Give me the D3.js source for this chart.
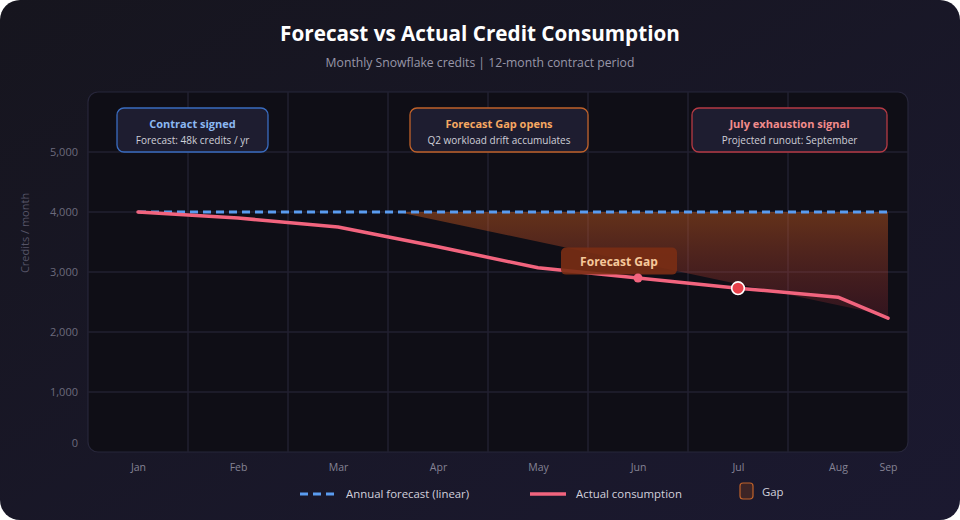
<!DOCTYPE html>
<html><head><meta charset="utf-8">
<script src="https://cdn.jsdelivr.net/npm/d3@7"></script>
<style>
html,body{margin:0;padding:0;background:#ffffff;}
svg{display:block;font-family:"Open Sans","Noto Sans",sans-serif;}
</style></head>
<body><svg id="chart" width="960" height="520"></svg>
<script>
// ---- data ----
const months = ["Jan","Feb","Mar","Apr","May","Jun","Jul","Aug","Sep"];
const elapsed = [0,1,2,3,4,5,6,7,7.5];           // months since contract start (Sep partial)
const forecast = [4000,4000,4000,4000,4000,4000,4000,4000,4000];
const actual = [4000,3900,3750,3420,3070,2900,2730,2580,2230];
const gapElapsed = [2.6, 7.5];
const gapLower = [4000, 2270];
const yTicks = [0,1000,2000,3000,4000,5000];
const annotations = [
  {title:"Contract signed", sub:"Forecast: 48k credits / yr", at:0.545, kind:"blue"},
  {title:"Forecast Gap opens", sub:"Q2 workload drift accumulates", at:3.61, kind:"orange"},
  {title:"July exhaustion signal", sub:"Projected runout: September", at:6.515, kind:"red"}
];

const W=960,H=520;
const svg=d3.select("#chart");
const defs=svg.append("defs");
const bg=defs.append("linearGradient").attr("id","bg").attr("x1","0").attr("y1","0").attr("x2","1").attr("y2","1");
bg.append("stop").attr("offset","0").attr("stop-color","#16151e");
bg.append("stop").attr("offset","1").attr("stop-color","#1b1930");
svg.append("rect").attr("width",W).attr("height",H).attr("rx",20).attr("fill","url(#bg)");

const plot={l:88,r:908,t:92,b:452};
const x=d3.scaleLinear().domain([-0.5,7.7]).range([plot.l,plot.r]);
const y=d3.scaleLinear().domain([0,6000]).range([plot.b,plot.t]);

svg.append("text").attr("x",W/2).attr("y",41).attr("text-anchor","middle")
  .attr("fill","#ffffff").attr("font-size",20.7).attr("font-weight",700).text("Forecast vs Actual Credit Consumption");
svg.append("text").attr("x",W/2).attr("y",67).attr("text-anchor","middle")
  .attr("fill","#9896a8").attr("font-size",12.2).text("Monthly Snowflake credits | 12-month contract period");

svg.append("rect").attr("x",plot.l).attr("y",plot.t).attr("width",plot.r-plot.l).attr("height",plot.b-plot.t)
  .attr("rx",10).attr("fill","#0f0e16").attr("stroke","#27263a").attr("stroke-width",1.2);

const clip=defs.append("clipPath").attr("id","clip");
clip.append("rect").attr("x",plot.l).attr("y",plot.t).attr("width",plot.r-plot.l).attr("height",plot.b-plot.t).attr("rx",10);
const g=svg.append("g").attr("clip-path","url(#clip)");

// grid
g.selectAll(".hg").data(yTicks.filter(d=>d>0)).join("line")
  .attr("x1",plot.l).attr("x2",plot.r).attr("y1",d=>y(d)).attr("y2",d=>y(d))
  .attr("stroke","#222131").attr("stroke-width",1.5);
g.selectAll(".vg").data(elapsed.slice(0,7)).join("line")
  .attr("x1",d=>x(d+0.5)).attr("x2",d=>x(d+0.5)).attr("y1",plot.t).attr("y2",plot.b)
  .attr("stroke","#222131").attr("stroke-width",1.5);

// axes
const yAxis=d3.axisLeft(y).tickValues(yTicks).tickFormat(d3.format(",")).tickSize(0).tickPadding(10);
const ya=svg.append("g").attr("transform",`translate(${plot.l},0)`).call(yAxis);
ya.select(".domain").remove();
ya.selectAll("text").attr("fill","#6c6a7c").attr("font-size",11).attr("font-family","Open Sans, Noto Sans, sans-serif");
ya.selectAll(".tick").filter(d=>d===0).select("text").attr("dy","-0.5em");

const xAxis=d3.axisBottom(x).tickValues(elapsed).tickFormat((d,i)=>months[i]).tickSize(0).tickPadding(12);
const xa=svg.append("g").attr("transform",`translate(0,${plot.b})`).call(xAxis);
xa.select(".domain").remove();
xa.selectAll("text").attr("fill","#858395").attr("font-size",10.5).attr("font-family","Open Sans, Noto Sans, sans-serif");

svg.append("text").attr("transform",`translate(29,${(plot.t+plot.b)/2-39}) rotate(-90)`)
  .attr("text-anchor","middle").attr("fill","#555366").attr("font-size",11).text("Credits / month");

// gap area
const gg=defs.append("linearGradient").attr("id","gapg").attr("gradientUnits","userSpaceOnUse")
  .attr("x1",0).attr("x2",0).attr("y1",y(4000)).attr("y2",y(2270));
gg.append("stop").attr("offset","0").attr("stop-color","#e4681f").attr("stop-opacity",0.4);
gg.append("stop").attr("offset","1").attr("stop-color","#c03040").attr("stop-opacity",0.2);
const gapData=gapElapsed.map((t,i)=>({t,lo:gapLower[i],hi:4000}));
g.append("path").datum(gapData)
  .attr("d",d3.area().x(d=>x(d.t)).y0(d=>y(d.hi)).y1(d=>y(d.lo)))
  .attr("fill","url(#gapg)");

// forecast line
const fData=elapsed.map((t,i)=>({t,v:forecast[i]}));
g.append("path").datum(fData).attr("d",d3.line().x(d=>x(d.t)).y(d=>y(d.v)))
  .attr("fill","none").attr("stroke","#5a9cf0").attr("stroke-width",3).attr("stroke-dasharray","8,5");

// actual line
const aData=elapsed.map((t,i)=>({t,v:actual[i]}));
g.append("path").datum(aData).attr("d",d3.line().x(d=>x(d.t)).y(d=>y(d.v)))
  .attr("fill","none").attr("stroke","#f2647e").attr("stroke-width",3.5).attr("stroke-linejoin","round").attr("stroke-linecap","round");

// Forecast Gap label
const lg=svg.append("g").attr("transform",`translate(${x(4.81)},${y(3190)})`);
lg.append("rect").attr("x",-58).attr("y",-13).attr("width",116).attr("height",27).attr("rx",5)
  .attr("fill","#7a2d14").attr("opacity",0.9);
lg.append("text").attr("text-anchor","middle").attr("y",5).attr("fill","#f6c89a")
  .attr("font-size",12).attr("font-weight",700).text("Forecast Gap");

// markers
svg.append("circle").attr("cx",x(elapsed[5])).attr("cy",y(actual[5])).attr("r",4.5).attr("fill","#f2647e");
svg.append("circle").attr("cx",x(elapsed[6])).attr("cy",y(actual[6])).attr("r",6.3)
  .attr("fill","#e8404a").attr("stroke","#ffffff").attr("stroke-width",1.6);

// annotation boxes
const kinds={blue:{s:"#3a6cc0",t:"#8cb8f2"},orange:{s:"#c0622a",t:"#f6a862"},red:{s:"#b53a44",t:"#f28c8c"}};
const boxW={blue:151,orange:178,red:195};
annotations.forEach(a=>{
  const c=kinds[a.kind], w=boxW[a.kind];
  const ag=svg.append("g").attr("transform",`translate(${x(a.at)},130)`);
  ag.append("rect").attr("x",-w/2).attr("y",-22).attr("width",w).attr("height",44).attr("rx",7)
    .attr("fill","#1e1d30").attr("stroke",c.s).attr("stroke-width",1.3);
  ag.append("text").attr("text-anchor","middle").attr("y",-2).attr("fill",c.t)
    .attr("font-size",11).attr("font-weight",700).text(a.title);
  ag.append("text").attr("text-anchor","middle").attr("y",14).attr("fill","#cfcfd8")
    .attr("font-size",10).text(a.sub);
});

// legend
const leg=svg.append("g").attr("transform","translate(0,494)");
leg.append("line").attr("x1",300).attr("x2",336).attr("y1",0).attr("y2",0)
  .attr("stroke","#5a9cf0").attr("stroke-width",3).attr("stroke-dasharray","8,5");
leg.append("text").attr("x",346).attr("y",4).attr("fill","#d2d0dc").attr("font-size",11.4).text("Annual forecast (linear)");
leg.append("line").attr("x1",530).attr("x2",566).attr("y1",0).attr("y2",0)
  .attr("stroke","#f2647e").attr("stroke-width",3.5);
leg.append("text").attr("x",576).attr("y",4).attr("fill","#d2d0dc").attr("font-size",11.4).text("Actual consumption");
leg.append("rect").attr("x",740).attr("y",-11).attr("width",13).attr("height",16).attr("rx",3)
  .attr("fill","#3c2426").attr("stroke","#c0622a").attr("stroke-width",1.2);
leg.append("text").attr("x",762).attr("y",2).attr("fill","#d2d0dc").attr("font-size",11.4).text("Gap");
</script></body></html>
